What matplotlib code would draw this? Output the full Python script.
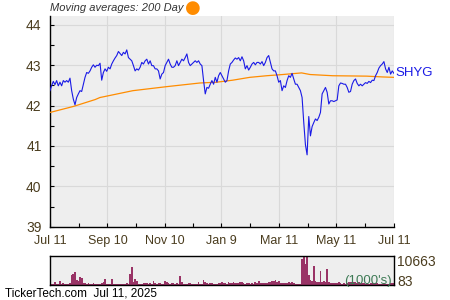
import numpy as np
import pandas as pd
import matplotlib
matplotlib.use('Agg')
import matplotlib.pyplot as plt

plt.rcParams['font.family'] = ['Liberation Sans', 'DejaVu Sans']

start = '2024-07-11'
end = '2025-07-11'

# closing price at even steps from start to end
price = [
    42.37, 42.49, 42.60, 42.52, 42.62, 42.49, 42.58, 42.49, 42.62, 42.58,
    42.62, 42.58, 42.68, 42.37, 42.16, 42.02, 42.20, 42.29, 42.37, 42.35,
    42.53, 42.70, 42.82, 42.80, 42.86, 42.95, 43.01, 42.95, 43.00, 42.99,
    43.05, 42.63, 42.82, 42.91, 42.85, 42.95, 42.91, 43.03, 43.11, 43.18,
    43.24, 43.34, 43.29, 43.24, 43.32, 43.28, 43.38, 43.19, 43.15, 43.11,
    42.99, 42.86, 42.91, 42.88, 42.95, 43.07, 43.03, 43.11, 43.15, 43.03,
    43.11, 42.99, 42.99, 42.91, 42.91, 42.86, 42.66, 42.78, 42.82, 42.99,
    43.07, 43.15, 43.03, 42.95, 42.95, 42.99, 43.11, 42.99, 43.07, 43.15,
    43.11, 43.19, 43.28, 43.07, 42.99, 43.03, 43.07, 43.11, 43.07, 43.11,
    43.03, 42.99, 42.62, 42.29, 42.45, 42.43, 42.53, 42.62, 42.53, 42.70,
    42.58, 42.74, 42.82, 42.74, 42.66, 42.58, 42.62, 42.86, 43.03, 43.07,
    43.13, 43.18, 43.15, 43.19, 43.11, 43.21, 43.11, 42.91, 42.99, 42.88,
    42.95, 43.03, 43.07, 43.01, 43.07, 43.07, 43.03, 43.09, 42.99, 43.07,
    43.19, 43.24, 43.07, 42.91, 42.86, 42.86, 42.74, 42.58, 42.62, 42.37,
    42.49, 42.45, 42.62, 42.74, 42.70, 42.80, 42.66, 42.53, 42.53, 42.45,
    42.37, 42.20, 41.58, 41.03, 40.78, 41.73, 41.25, 41.48, 41.58, 41.67,
    41.63, 41.71, 41.83, 42.29, 42.37, 42.45, 42.33, 42.04, 42.12, 42.12,
    42.10, 42.12, 42.14, 42.49, 42.56, 42.55, 42.53, 42.53, 42.45, 42.33,
    42.35, 42.53, 42.62, 42.66, 42.55, 42.49, 42.53, 42.49, 42.53, 42.57,
    42.55, 42.60, 42.57, 42.63, 42.62, 42.74, 42.82, 42.93, 42.99, 43.03,
    43.09, 42.91, 42.82, 42.95, 42.78, 42.86, 42.80,
]

# volume in thousands, same dates as price
volume = [
    335, 461, 461, 1091, 461, 461, 1595, 461, 713, 335,
    335, 461, 713, 3611, 4115, 4871, 1973, 1595, 2855, 2603,
    965, 965, 461, 713, 587, 461, 839, 461, 335, 335,
    461, 713, 1091, 2351, 335, 335, 461, 2099, 335, 335,
    335, 335, 335, 335, 335, 335, 713, 461, 4115, 6761,
    1343, 2099, 1721, 461, 461, 461, 713, 713, 713, 587,
    713, 461, 1595, 965, 461, 965, 965, 461, 587, 1595,
    1343, 839, 461, 839, 713, 461, 713, 587, 3359, 1091,
    461, 335, 461, 839, 713, 461, 335, 335, 461, 1343,
    587, 461, 1973, 1343, 839, 461, 713, 713, 461, 587,
    461, 713, 839, 1091, 713, 965, 587, 1343, 713, 839,
    1091, 839, 965, 839, 1091, 1343, 713, 587, 713, 839,
    587, 713, 587, 1091, 713, 1595, 839, 713, 965, 839,
    713, 1343, 1343, 1721, 1469, 1973, 1091, 1595, 839, 965,
    713, 839, 713, 1343, 713, 1091, 713, 461, 587, 461,
    587, 9533, 10163, 7643, 10663, 3863, 1973, 1595, 7013, 1595,
    1343, 1343, 5123, 1343, 1595, 1091, 5753, 1343, 839, 965,
    839, 713, 839, 1343, 713, 587, 713, 587, 713, 1343,
    1091, 1343, 1217, 1091, 965, 1091, 839, 965, 713, 587,
    713, 587, 713, 839, 713, 965, 839, 587, 461, 587,
    713, 587, 461, 587, 839, 713, 839,
]

# 200 day moving average: days after start, value
ma_days = [0, 25, 48, 53, 88, 124, 159, 177, 194, 212, 230, 247, 267, 276, 300, 336, 353, 365]
ma_value = [41.83, 41.98, 42.15, 42.20, 42.37, 42.47, 42.56, 42.58, 42.63, 42.70,
            42.74, 42.77, 42.81, 42.77, 42.74, 42.73, 42.71, 42.70]

tick_dates = ['2024-07-11', '2024-09-10', '2024-11-10', '2025-01-09',
              '2025-03-11', '2025-05-11', '2025-07-11']
tick_labels = ['Jul 11', 'Sep 10', 'Nov 10', 'Jan 9', 'Mar 11', 'May 11', 'Jul 11']

dates = pd.date_range(start, end, periods=len(price))
ma_dates = pd.Timestamp(start) + pd.to_timedelta(ma_days, unit='D')
ticks = pd.to_datetime(tick_dates)
minor = ticks[:-1] + (ticks[1:] - ticks[:-1]) / 2

txt = '#4a3c1e'
bg = '#eeeeee'

fig = plt.figure(figsize=(4.5, 3), dpi=100)
ax = fig.add_axes([0.111, 0.2443, 0.7644, 0.7024])
ax.set_facecolor(bg)
ax.plot(ma_dates, ma_value, color='#ff8c00', lw=0.9, zorder=3)
ax.plot(dates, price, color='#1a1ae6', lw=0.8, zorder=4)
ax.set_xlim(pd.Timestamp(start), pd.Timestamp(end))
ax.set_ylim(39, 44.22)
ax.set_yticks([39, 40, 41, 42, 43, 44])
ax.set_yticks(np.arange(39.5, 44.2, 1), minor=True)
ax.set_xticks(ticks)
ax.set_xticklabels(tick_labels)
ax.set_xticks(minor, minor=True)
ax.grid(True, which='major', color='#d9d9d9', lw=0.8)
ax.set_axisbelow(True)
for s in ['top', 'right']:
    ax.spines[s].set_visible(False)
for s in ['left', 'bottom']:
    ax.spines[s].set_color('black')
    ax.spines[s].set_linewidth(1.0)
ax.tick_params(which='both', direction='in', length=3, width=0.8, color='black')
ax.tick_params(axis='y', labelsize=10, labelcolor=txt, pad=6)
ax.tick_params(axis='x', labelsize=9, labelcolor=txt, pad=6)
ax.text(1.005, price[-1], 'SHYG', color='#1a1ae6', fontsize=9.5, va='center',
        ha='left', transform=ax.get_yaxis_transform())

fig.text(0.111, 0.972, 'Moving averages: 200 Day', fontsize=8, style='italic',
         color='#333333', va='center', ha='left')
fig.text(0.428, 0.974, '\u25CF', fontsize=13, color='#ff8c00', va='center', ha='center',
         family='DejaVu Sans')

vax = fig.add_axes([0.111, 0.05, 0.7644, 0.0967])
vax.set_facecolor(bg)
vax.bar(dates, volume, width=1.8, color='#993366', linewidth=0)
vax.set_xlim(pd.Timestamp(start), pd.Timestamp(end))
vax.set_ylim(83, 10663)
vax.set_xticks([])
vax.set_yticks([])
for s in vax.spines.values():
    s.set_color('black')
    s.set_linewidth(1.0)
vax.text(1.01, 0.8, '10663', transform=vax.transAxes, fontsize=10, color=txt,
         va='center', ha='left')
vax.text(1.01, 0.12, '83', transform=vax.transAxes, fontsize=10, color=txt,
         va='center', ha='left')
vax.text(0.995, 0.15, "(1000's)", transform=vax.transAxes, fontsize=9.5,
         color='#3d7a55', va='center', ha='right')

fig.text(0.011, 0.02, 'TickerTech.com  Jul 11, 2025', fontsize=8.5, color='black',
         va='center', ha='left')

fig.savefig('out.png', dpi=100)
